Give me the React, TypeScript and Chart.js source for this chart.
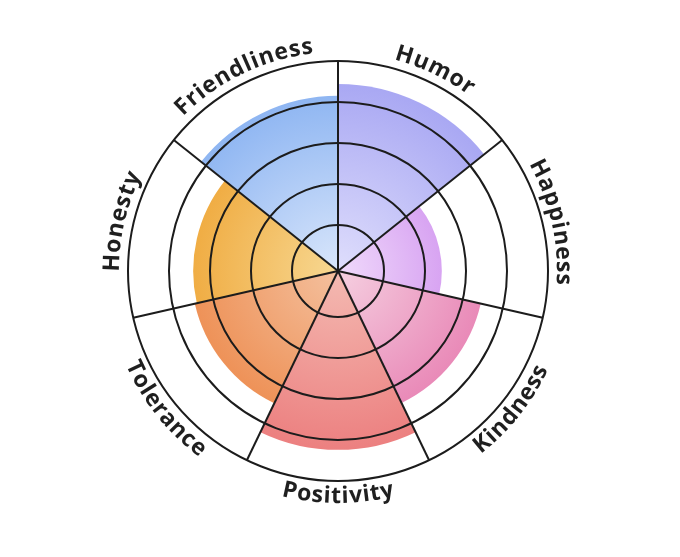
import React, { useEffect, useRef } from "react";
import { Chart, registerables } from "chart.js";

Chart.register(...registerables);

const categories = ["Humor", "Happiness", "Kindness", "Positivity", "Tolerance", "Honesty", "Friendliness"];
const values = [4.44, 2.41, 3.45, 4.24, 3.46, 3.41, 4.15];
const outerColors = ["#a9a8f3", "#d8a4f2", "#e98ab8", "#ec8080", "#ee9258", "#f0ad44", "#8fb6f2"];
const innerColors = ["#dfdefc", "#f0dafb", "#f5cfe0", "#f4bab2", "#f4c09e", "#f7d892", "#d9e6fb"];
const ringTicks = [1, 2, 3, 4, 5];
const scaleMin = -0.122;
const scaleMax = 5;
// labels drawn with letter tops toward the centre (bottom half)
const inwardLabels = ["Kindness", "Positivity", "Tolerance"];

const curvedLabels = {
  id: "curvedLabels",
  afterDraw(chart: any) {
    const scale = chart.scales.r;
    const ctx = chart.ctx;
    const cx = scale.xCenter;
    const cy = scale.yCenter;
    const R = scale.drawingArea;
    const n = categories.length;
    const step = (Math.PI * 2) / n;
    ctx.save();
    ctx.font = "bold 23px 'Open Sans'";
    ctx.fillStyle = "#1f1f1f";
    ctx.textAlign = "center";
    ctx.textBaseline = "alphabetic";
    categories.forEach((label, i) => {
      const mid = -Math.PI / 2 + (i + 0.5) * step;
      const inward = inwardLabels.includes(label);
      const r = inward ? R + 22 : R + 9;
      const spacing = 0.8;
      const widths = Array.from(label).map((ch) => ctx.measureText(ch).width + spacing);
      const total = widths.reduce((a, b) => a + b, 0);
      const span = total / r;
      let acc = 0;
      Array.from(label).forEach((ch, k) => {
        const w = widths[k];
        let a;
        let rot;
        if (inward) {
          a = mid + span / 2 - (acc + w / 2) / r;
          rot = a - Math.PI / 2;
        } else {
          a = mid - span / 2 + (acc + w / 2) / r;
          rot = a + Math.PI / 2;
        }
        ctx.save();
        ctx.translate(cx + r * Math.cos(a), cy + r * Math.sin(a));
        ctx.rotate(rot);
        ctx.fillText(ch, 0, 0);
        ctx.restore();
        acc += w;
      });
    });
    ctx.restore();
  },
};

function makeFill(context: any) {
  const chart = context.chart;
  const i = context.dataIndex;
  const scale = chart.scales && chart.scales.r;
  if (!chart.chartArea || !scale || scale.xCenter === undefined) return outerColors[i];
  const rad = scale.getDistanceFromCenterForValue(values[i]);
  const g = chart.ctx.createRadialGradient(scale.xCenter, scale.yCenter, 0, scale.xCenter, scale.yCenter, Math.max(rad, 1));
  g.addColorStop(0, innerColors[i]);
  g.addColorStop(1, outerColors[i]);
  return g;
}

export default function App() {
  const ref = useRef<HTMLCanvasElement>(null);
  useEffect(() => {
    if (!ref.current) return;
    const chart = new Chart(ref.current, {
      type: "polarArea",
      data: {
        labels: categories,
        datasets: [
          {
            data: values,
            backgroundColor: makeFill,
            borderWidth: 0,
          },
        ],
      },
      options: {
        responsive: false,
        animation: false,
        layout: { padding: { left: 128, right: 132, top: 61, bottom: 76 } },
        plugins: { legend: { display: false }, tooltip: { enabled: false } },
        scales: {
          r: {
            min: scaleMin,
            max: scaleMax,
            startAngle: 0,
            afterBuildTicks: (s: any) => {
              s.ticks = ringTicks.map((v) => ({ value: v }));
            },
            ticks: { display: false },
            grid: { z: 1, color: "#1c1c1c", lineWidth: 2, circular: true },
            angleLines: { display: true, color: "#1c1c1c", lineWidth: 2 },
            pointLabels: { display: false },
          },
        },
      } as any,
      plugins: [curvedLabels],
    });
    return () => chart.destroy();
  }, []);
  return (
    <div style={{ position: "fixed", left: 0, top: 0, width: 680, height: 557, background: "#fff" }}>
      <canvas ref={ref} width={680} height={557} style={{ display: "block" }} />
    </div>
  );
}
